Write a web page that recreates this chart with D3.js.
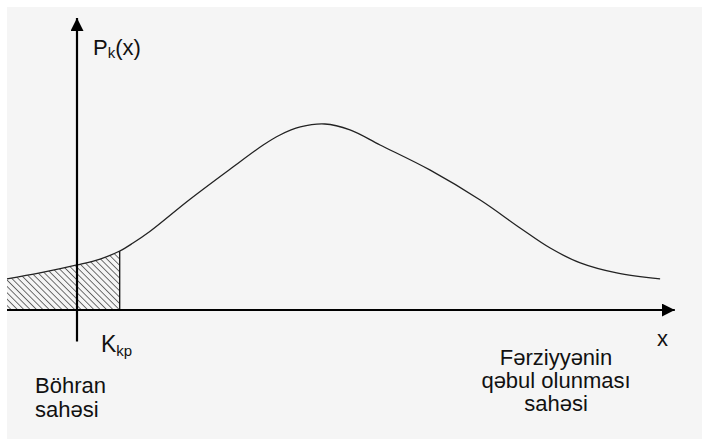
<!DOCTYPE html>
<html>
<head>
<meta charset="utf-8">
<script src="https://cdn.jsdelivr.net/npm/d3@7"></script>
<style>
  html, body { margin: 0; padding: 0; background: #ffffff; }
  svg { display: block; }
  text { font-family: "Liberation Sans", Arial, sans-serif; fill: #111; }
</style>
</head>
<body>
<svg id="chart" width="702" height="439"></svg>
<script>
// Density curve P_k(x): sample points (x, density)
const curveX = [-1, -0.53, 0, 0.33, 0.61, 0.8, 1.04, 1.61, 2.19, 2.66, 2.9, 3.19, 3.54, 3.9, 4.33, 5.04, 5.76, 6.33, 6.76, 7.19, 7.71, 8.33];
const curveY = [0.167, 0.199, 0.242, 0.274, 0.317, 0.36, 0.422, 0.594, 0.758, 0.887, 0.941, 0.984, 1.0, 0.968, 0.887, 0.753, 0.591, 0.441, 0.333, 0.253, 0.199, 0.167];

// Critical value K_kp separating the critical region
const kCritical = 0.61;

// Axis extents (data units)
const xAxisExtent = [-1, 8.54];
const yAxisExtent = [-0.17, 1.57];

// Labels
const yLabel = { main: "P", sub: "k", tail: "(x)" };
const kLabel = { main: "K", sub: "kp" };
const xLabel = "x";
const criticalRegionLines = ["Böhran", "sahəsi"];
const acceptRegionLines = ["Fərziyyənin", "qəbul olunması", "sahəsi"];

const svg = d3.select("#chart");
const W = 702, H = 439;

const x = d3.scaleLinear().domain([-1, 9]).range([7, 707]);
const y = d3.scaleLinear().domain([0, 1]).range([310, 124]);

// panel background
svg.append("rect").attr("x", 7).attr("y", 7).attr("width", W - 7).attr("height", H - 7).attr("fill", "#f5f5f5");

const defs = svg.append("defs");
const pat = defs.append("pattern")
  .attr("id", "hatch").attr("patternUnits", "userSpaceOnUse")
  .attr("width", 4.5).attr("height", 4.5)
  .attr("patternTransform", "rotate(-45)");
pat.append("line").attr("x1", 0).attr("y1", 0).attr("x2", 0).attr("y2", 4.5)
  .attr("stroke", "#000").attr("stroke-width", 1.1);

const pts = curveX.map((d, i) => [d, curveY[i]]);
const curveType = d3.curveCatmullRom.alpha(0.5);

// hatched critical region under the curve up to K_kp
const lineGen = d3.line().x(d => x(d[0])).y(d => y(d[1])).curve(curveType);
const clip = defs.append("clipPath").attr("id", "crit");
clip.append("rect").attr("x", x(-1)).attr("y", 0).attr("width", x(kCritical) - x(-1)).attr("height", y(0));
const areaGen = d3.area().x(d => x(d[0])).y0(y(0)).y1(d => y(d[1])).curve(curveType);
svg.append("path").datum(pts).attr("d", areaGen)
  .attr("fill", "url(#hatch)").attr("clip-path", "url(#crit)");

// boundary at K_kp
const kIdx = curveX.indexOf(kCritical);
svg.append("line")
  .attr("x1", x(kCritical)).attr("x2", x(kCritical))
  .attr("y1", y(0)).attr("y2", y(curveY[kIdx]))
  .attr("stroke", "#111").attr("stroke-width", 1.3);

// density curve
svg.append("path").datum(pts).attr("d", lineGen)
  .attr("fill", "none").attr("stroke", "#222").attr("stroke-width", 1.3);

// axes with arrowheads
defs.append("marker").attr("id", "arrow")
  .attr("viewBox", "0 0 13 13").attr("refX", 13).attr("refY", 6.5)
  .attr("markerWidth", 13).attr("markerHeight", 13).attr("markerUnits", "userSpaceOnUse")
  .attr("orient", "auto")
  .append("path").attr("d", "M0,0 L13,6.5 L0,13 Z").attr("fill", "#000");

svg.append("line")
  .attr("x1", x(xAxisExtent[0])).attr("x2", x(xAxisExtent[1]))
  .attr("y1", y(0)).attr("y2", y(0))
  .attr("stroke", "#000").attr("stroke-width", 2.2).attr("marker-end", "url(#arrow)");
svg.append("line")
  .attr("x1", x(0)).attr("x2", x(0))
  .attr("y1", y(yAxisExtent[0])).attr("y2", y(yAxisExtent[1]))
  .attr("stroke", "#000").attr("stroke-width", 2.2).attr("marker-end", "url(#arrow)");

// labels
const yl = svg.append("text").attr("x", 93).attr("y", 55).attr("font-size", 22);
yl.append("tspan").text(yLabel.main);
yl.append("tspan").attr("font-size", 15).attr("dy", 3).text(yLabel.sub);
yl.append("tspan").attr("dy", -3).text(yLabel.tail);

const kl = svg.append("text").attr("x", 101).attr("y", 352).attr("font-size", 23);
kl.append("tspan").text(kLabel.main);
kl.append("tspan").attr("font-size", 15).attr("dy", 4).text(kLabel.sub);

svg.append("text").attr("x", 657).attr("y", 346).attr("font-size", 22).text(xLabel);

svg.append("g").selectAll("text").data(criticalRegionLines).join("text")
  .attr("x", 35).attr("y", (d, i) => 393 + i * 24).attr("font-size", 22).text(d => d);

svg.append("g").selectAll("text").data(acceptRegionLines).join("text")
  .attr("x", 556).attr("text-anchor", "middle")
  .attr("y", (d, i) => 365 + i * 23).attr("font-size", 22).text(d => d);
</script>
</body>
</html>
